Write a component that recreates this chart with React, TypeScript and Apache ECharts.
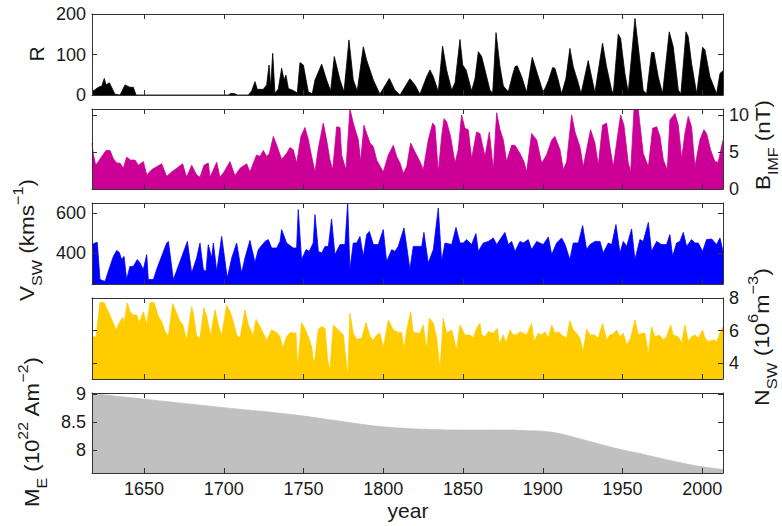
import React, { useEffect, useRef } from 'react';
import * as echarts from 'echarts';

const FONT = "'Liberation Sans', Arial, Helvetica, sans-serif";
const X_MIN = 1617.4;
const X_MAX = 2013;
const yearTicks = [1650, 1700, 1750, 1800, 1850, 1900, 1950, 2000];

const rTicks = [0, 100, 200];
const bTicks = [0, 5, 10];
const vTicks = [400, 600];
const nTicks = [4, 6, 8];
const mTicks = [8, 8.5, 9];

// Sunspot number R
const sunspotR: [number, number][] = [
  [1617.4, 10], [1618.9, 12], [1621.4, 19], [1623.5, 22], [1625.1, 41], [1626.2, 25], [1628.3, 30], [1629.7, 19],
  [1631.8, 2], [1635.0, 0], [1636.0, 8], [1638.1, 25], [1641.2, 19], [1643.3, 19], [1645.0, 0], [1702.9, 0],
  [1704.3, 4], [1707.0, 3], [1708.5, 0], [1715.4, 0], [1717.5, 10], [1719.6, 33], [1721.0, 14], [1724.8, 14],
  [1726.9, 25], [1728.4, 74], [1729.4, 20], [1730.7, 103], [1732.1, 4], [1734.2, 15], [1736.3, 66], [1737.8, 37],
  [1739.0, 49], [1740.5, 16], [1743.6, 11], [1746.1, 5], [1747.8, 80], [1749.9, 74], [1753.0, 8], [1755.5, 3],
  [1757.2, 37], [1761.4, 76], [1764.5, 37], [1767.0, 10], [1769.3, 95], [1772.9, 37], [1775.4, 8], [1778.5, 136],
  [1781.2, 37], [1783.7, 10], [1787.5, 119], [1789.6, 86], [1793.8, 37], [1797.9, 2], [1803.8, 41], [1807.3, 12],
  [1810.5, 0], [1816.7, 40], [1819.9, 25], [1823.0, 2], [1827.2, 45], [1829.3, 62], [1831.4, 45], [1834.5, 8],
  [1837.2, 121], [1839.7, 62], [1842.9, 12], [1845.0, 30], [1848.1, 137], [1849.8, 74], [1851.9, 62], [1855.4, 10],
  [1857.5, 40], [1859.6, 107], [1861.7, 95], [1864.4, 52], [1866.9, 12], [1868.6, 5], [1870.7, 154], [1873.2, 70],
  [1875.3, 22], [1878.4, 8], [1881.1, 50], [1882.6, 70], [1884.0, 72], [1886.8, 45], [1889.9, 6], [1893.4, 93],
  [1896.2, 58], [1900.3, 6], [1903.5, 35], [1906.2, 68], [1907.6, 66], [1909.7, 37], [1911.8, 3], [1914.5, 40],
  [1917.0, 115], [1919.1, 70], [1922.3, 29], [1924.0, 3], [1928.5, 85], [1930.6, 45], [1932.7, 6], [1937.5, 128],
  [1940.0, 70], [1943.2, 12], [1944.2, 3], [1947.3, 150], [1948.8, 140], [1951.5, 53], [1953.6, 6], [1957.8, 189],
  [1959.9, 119], [1963.0, 11], [1965.1, 3], [1968.2, 105], [1969.7, 105], [1972.4, 45], [1975.1, 3], [1979.3, 156],
  [1981.8, 119], [1985.0, 12], [1986.6, 3], [1989.8, 156], [1991.2, 144], [1993.3, 78], [1996.5, 3], [2000.2, 118],
  [2001.7, 111], [2004.8, 45], [2009.0, 3], [2011.1, 53], [2013.0, 60],
];

// IMF field strength B (nT)
const imfB: [number, number][] = [
  [1617.4, 6.2], [1618.2, 4.8], [1619.7, 3.2], [1621.4, 3.7], [1623.5, 4.4], [1626.2, 5.2], [1628.7, 5.2], [1630.8, 4.1],
  [1632.9, 3.5], [1635.0, 3.5], [1637.0, 2.8], [1639.1, 4.3], [1641.6, 3.9], [1644.4, 3.9], [1646.4, 3.2], [1649.6, 3.7],
  [1651.7, 1.9], [1654.8, 2.6], [1657.9, 3.0], [1661.1, 3.4], [1664.2, 1.7], [1667.3, 2.3], [1670.5, 2.8], [1674.2, 3.4],
  [1676.7, 1.6], [1679.9, 3.2], [1683.0, 1.9], [1685.1, 1.6], [1687.6, 3.2], [1690.3, 3.5], [1691.4, 1.6], [1695.6, 3.6],
  [1697.6, 1.6], [1700.2, 2.3], [1703.9, 3.7], [1707.0, 1.8], [1710.2, 2.8], [1714.4, 3.4], [1716.4, 2.3], [1720.6, 4.6],
  [1722.7, 4.4], [1724.8, 5.2], [1726.9, 4.4], [1728.6, 4.8], [1731.1, 7.1], [1733.2, 5.9], [1736.3, 4.0], [1739.4, 4.8],
  [1741.5, 5.6], [1743.6, 5.3], [1745.7, 3.5], [1748.4, 7.1], [1750.9, 8.3], [1753.0, 6.7], [1755.1, 4.4], [1757.2, 2.3],
  [1759.3, 5.5], [1762.4, 8.9], [1764.5, 6.6], [1766.6, 3.9], [1768.3, 2.6], [1770.8, 8.4], [1772.9, 8.3], [1773.9, 4.6],
  [1776.6, 2.6], [1779.1, 10.8], [1781.2, 8.9], [1784.4, 6.6], [1785.8, 3.7], [1787.9, 8.6], [1789.6, 7.5], [1791.7, 6.2],
  [1793.8, 5.7], [1795.9, 3.9], [1800.0, 2.3], [1803.2, 4.6], [1806.3, 5.9], [1808.4, 4.4], [1810.5, 3.5], [1812.6, 2.1],
  [1814.7, 3.0], [1817.2, 6.2], [1819.9, 5.0], [1823.0, 3.7], [1825.1, 2.6], [1828.2, 6.6], [1831.0, 8.9], [1832.4, 8.5],
  [1834.5, 2.3], [1836.6, 7.1], [1838.1, 9.5], [1839.7, 9.1], [1842.2, 7.1], [1845.0, 3.5], [1847.0, 5.3], [1849.1, 10.0],
  [1851.2, 8.2], [1853.3, 8.0], [1855.4, 4.1], [1858.5, 7.7], [1860.6, 7.5], [1863.8, 4.4], [1866.5, 7.7], [1869.0, 2.6],
  [1871.1, 10.3], [1873.2, 8.0], [1875.3, 6.6], [1877.3, 3.7], [1880.5, 5.9], [1882.6, 5.9], [1885.7, 4.8], [1888.2, 3.7],
  [1889.9, 2.3], [1893.0, 7.5], [1896.2, 6.6], [1899.3, 3.5], [1902.4, 4.6], [1905.6, 6.6], [1907.6, 7.1], [1910.8, 5.3],
  [1912.9, 2.6], [1915.0, 3.7], [1918.1, 10.0], [1920.2, 7.7], [1923.3, 5.7], [1925.4, 3.0], [1928.5, 6.4], [1930.0, 8.0],
  [1932.7, 6.2], [1934.8, 3.2], [1937.5, 8.6], [1940.0, 8.9], [1942.1, 5.7], [1944.2, 3.0], [1946.3, 6.2], [1948.8, 10.0],
  [1950.9, 8.6], [1953.6, 3.5], [1955.1, 2.3], [1957.2, 10.7], [1959.9, 10.7], [1963.0, 4.8], [1966.2, 3.0], [1968.9, 8.2],
  [1971.4, 8.4], [1973.5, 7.1], [1975.6, 3.9], [1978.1, 2.6], [1979.7, 9.3], [1982.9, 10.2], [1985.0, 8.6], [1987.1, 4.1],
  [1989.1, 7.5], [1991.2, 9.8], [1993.3, 8.4], [1995.4, 3.0], [1998.5, 6.6], [2001.0, 8.0], [2002.7, 7.5], [2005.2, 5.3],
  [2007.9, 3.7], [2010.0, 3.6], [2013.0, 6.6],
];

// Solar wind speed V (km/s)
const windV: [number, number][] = [
  [1617.4, 442], [1619.3, 450], [1620.7, 453], [1622.4, 267], [1625.6, 258], [1627.6, 308], [1630.8, 383], [1632.9, 412],
  [1634.5, 403], [1636.0, 367], [1637.5, 383], [1639.1, 267], [1641.2, 333], [1643.3, 333], [1645.8, 367], [1647.5, 350],
  [1649.6, 317], [1651.7, 392], [1652.7, 267], [1655.9, 267], [1657.9, 317], [1664.2, 450], [1665.3, 458], [1668.4, 267],
  [1672.6, 358], [1675.7, 425], [1677.2, 458], [1679.9, 300], [1683.0, 375], [1685.1, 450], [1687.2, 317], [1688.9, 308],
  [1690.3, 442], [1692.4, 375], [1693.5, 450], [1695.6, 308], [1698.7, 483], [1702.2, 275], [1705.0, 375], [1708.1, 450],
  [1711.2, 300], [1713.3, 375], [1716.4, 463], [1719.6, 353], [1721.7, 417], [1725.9, 458], [1727.9, 467], [1730.0, 425],
  [1733.2, 425], [1735.3, 458], [1736.3, 517], [1739.4, 450], [1743.6, 425], [1745.7, 425], [1746.7, 617], [1748.8, 367],
  [1751.6, 417], [1753.6, 408], [1756.1, 450], [1757.2, 592], [1759.3, 408], [1761.4, 400], [1763.5, 433], [1765.6, 433],
  [1767.6, 570], [1769.7, 392], [1772.9, 442], [1776.0, 442], [1777.7, 650], [1779.1, 317], [1781.2, 450], [1783.3, 450],
  [1785.4, 483], [1787.5, 383], [1789.6, 492], [1791.3, 508], [1793.8, 442], [1796.9, 442], [1800.0, 517], [1802.1, 358],
  [1805.3, 417], [1807.3, 408], [1809.4, 433], [1813.0, 525], [1814.7, 433], [1816.7, 317], [1818.8, 433], [1822.0, 433],
  [1824.1, 433], [1825.5, 503], [1828.2, 350], [1831.4, 417], [1834.5, 625], [1836.6, 358], [1838.7, 450], [1842.9, 442],
  [1845.6, 528], [1848.1, 450], [1850.2, 450], [1852.3, 467], [1855.4, 442], [1858.1, 497], [1859.6, 408], [1862.7, 450],
  [1865.9, 458], [1869.0, 475], [1871.1, 442], [1873.2, 467], [1876.3, 503], [1878.4, 442], [1880.5, 458], [1882.6, 408],
  [1885.7, 458], [1887.8, 450], [1890.9, 467], [1893.0, 417], [1896.2, 458], [1898.2, 450], [1900.3, 442], [1903.5, 480],
  [1905.6, 392], [1908.7, 450], [1911.8, 475], [1914.0, 442], [1917.0, 367], [1919.1, 450], [1922.3, 450], [1925.0, 537],
  [1927.5, 417], [1929.6, 442], [1932.7, 458], [1935.9, 458], [1937.9, 400], [1941.1, 450], [1943.2, 442], [1945.9, 542],
  [1948.4, 400], [1950.5, 458], [1952.6, 433], [1955.7, 520], [1957.8, 367], [1960.9, 467], [1963.0, 458], [1966.2, 553],
  [1968.2, 408], [1971.4, 458], [1974.5, 442], [1977.6, 442], [1979.7, 492], [1981.4, 383], [1983.9, 450], [1986.0, 458],
  [1988.1, 503], [1990.2, 433], [1993.3, 467], [1995.4, 450], [1997.5, 450], [2000.2, 408], [2002.7, 467], [2005.9, 470],
  [2009.0, 442], [2011.1, 475], [2013.0, 408],
];

// Solar wind number density N (1e6 m^-3)
const windN: [number, number][] = [
  [1617.4, 5.67], [1619.9, 5.59], [1621.4, 6.86], [1622.4, 7.71], [1624.9, 7.73], [1627.6, 7.16], [1630.8, 6.45], [1632.4, 6.04],
  [1635.0, 6.55], [1636.6, 6.82], [1637.5, 6.45], [1639.6, 7.71], [1641.2, 7.16], [1643.3, 6.96], [1645.4, 6.96], [1647.1, 6.49],
  [1649.6, 7.16], [1651.7, 6.35], [1653.8, 7.71], [1656.3, 7.73], [1659.0, 6.86], [1661.1, 6.55], [1663.2, 5.94], [1665.3, 5.67],
  [1668.0, 7.67], [1670.5, 7.06], [1672.6, 6.55], [1674.2, 6.41], [1676.7, 5.39], [1679.9, 7.47], [1680.9, 7.06], [1683.0, 5.67],
  [1685.1, 5.53], [1687.6, 7.41], [1689.3, 6.86], [1691.8, 5.67], [1694.5, 7.27], [1696.6, 6.35], [1698.7, 5.67], [1701.8, 7.57],
  [1703.9, 7.16], [1706.0, 6.55], [1708.1, 5.73], [1710.2, 5.53], [1713.3, 7.27], [1715.4, 6.35], [1718.5, 5.67], [1720.2, 6.69],
  [1722.7, 6.24], [1724.8, 5.84], [1726.9, 5.39], [1730.0, 6.04], [1733.2, 5.88], [1735.3, 5.63], [1736.9, 4.92], [1739.4, 5.63],
  [1741.5, 5.88], [1745.3, 5.84], [1746.3, 3.69], [1748.8, 6.49], [1750.9, 6.14], [1753.0, 5.63], [1755.1, 5.02], [1756.6, 3.8],
  [1759.3, 6.08], [1761.4, 6.24], [1763.5, 6.14], [1765.1, 4.2], [1766.6, 3.6], [1768.7, 6.35], [1771.8, 6.04], [1775.0, 5.73],
  [1777.7, 3.18], [1779.1, 7.06], [1781.2, 5.84], [1783.3, 5.47], [1786.5, 5.53], [1789.2, 6.49], [1791.7, 5.63], [1793.8, 5.43],
  [1795.9, 5.73], [1798.0, 5.84], [1800.0, 4.92], [1803.2, 6.65], [1806.3, 6.04], [1809.4, 5.88], [1811.5, 5.88], [1813.0, 4.82],
  [1814.7, 6.04], [1817.2, 7.16], [1818.8, 5.88], [1823.0, 5.84], [1825.1, 6.35], [1827.2, 4.82], [1828.9, 6.76], [1831.4, 6.45],
  [1833.5, 5.55], [1835.6, 3.59], [1837.6, 6.76], [1839.7, 5.84], [1842.9, 6.04], [1846.0, 4.82], [1848.1, 6.35], [1851.2, 5.73],
  [1854.4, 5.73], [1856.4, 5.53], [1858.5, 6.14], [1860.6, 6.45], [1861.7, 5.73], [1863.8, 5.63], [1865.9, 5.94], [1869.0, 5.84],
  [1871.5, 6.14], [1872.7, 5.22], [1875.3, 5.73], [1876.9, 5.22], [1879.4, 6.04], [1881.5, 5.73], [1883.6, 5.73], [1885.7, 5.94],
  [1887.8, 5.84], [1889.9, 5.73], [1893.0, 6.45], [1894.5, 5.33], [1897.2, 5.84], [1899.3, 5.73], [1901.4, 5.94], [1903.5, 5.53],
  [1905.6, 6.35], [1907.6, 5.84], [1909.7, 5.94], [1911.8, 5.73], [1915.0, 5.53], [1917.0, 6.61], [1919.1, 6.04], [1921.2, 5.84],
  [1923.3, 5.53], [1925.4, 4.71], [1927.5, 6.08], [1929.6, 5.73], [1932.7, 5.73], [1934.8, 5.53], [1937.5, 6.45], [1940.0, 5.43],
  [1942.1, 5.73], [1944.2, 5.8], [1946.3, 6.04], [1948.4, 5.63], [1950.5, 5.84], [1952.6, 5.12], [1955.1, 5.53], [1957.8, 6.65],
  [1959.9, 5.73], [1962.0, 5.84], [1964.1, 5.84], [1966.2, 4.51], [1968.2, 6.24], [1970.3, 5.63], [1973.0, 5.73], [1975.6, 5.43],
  [1977.6, 5.63], [1980.2, 6.35], [1981.8, 5.73], [1985.0, 5.63], [1987.1, 5.22], [1989.1, 6.35], [1991.2, 5.33], [1993.3, 5.63],
  [1995.4, 5.73], [1997.5, 5.53], [2000.2, 6.04], [2001.7, 5.53], [2003.8, 5.33], [2006.9, 5.43], [2009.0, 5.33], [2011.1, 5.84],
  [2013.0, 6.24],
];

// Geomagnetic dipole moment M_E (1e22 A m^2)
const dipoleM: [number, number][] = [
  [1617.4, 9.01], [1650, 8.91], [1700, 8.76], [1725, 8.69], [1750, 8.61], [1765, 8.55], [1780, 8.49], [1790, 8.45],
  [1800, 8.42], [1812, 8.395], [1825, 8.378], [1850, 8.362], [1875, 8.362], [1890, 8.352], [1900, 8.34], [1910, 8.3],
  [1920, 8.23], [1930, 8.155], [1940, 8.08], [1950, 8.01], [1960, 7.95], [1970, 7.885], [1980, 7.82], [1990, 7.76],
  [2000, 7.71], [2013, 7.66],
];

const panels = [
  { top: 14, height: 81, min: 0, max: 200, ticks: rTicks, labelSide: 'left', data: sunspotR, color: '#000000', smooth: false },
  { top: 109, height: 80, min: 0, max: 10.8, ticks: bTicks, labelSide: 'right', data: imfB, color: '#cc0096', smooth: false },
  { top: 203, height: 81, min: 245, max: 650, ticks: vTicks, labelSide: 'left', data: windV, color: '#0000ff', smooth: false },
  { top: 298, height: 81, min: 3.04, max: 8, ticks: nTicks, labelSide: 'right', data: windN, color: '#ffcc00', smooth: false },
  { top: 393, height: 80, min: 7.6, max: 9.02, ticks: mTicks, labelSide: 'left', data: dipoleM, color: '#c0c0c0', smooth: true },
];

const AXIS_COLOR = '#333333';
const TEXT_COLOR = '#1a1a1a';
const MAIN_SIZE = 21;
const SUB_SIZE = 15;

type Tok = [string, 'm' | 's' | 'p'];

function measure(tokens: Tok[]): number {
  const c = document.createElement('canvas').getContext('2d');
  if (!c) return 0;
  let w = 0;
  tokens.forEach(([t, k]) => {
    c.font = `${k === 'm' ? MAIN_SIZE : SUB_SIZE}px ${FONT}`;
    w += c.measureText(t).width;
  });
  return w;
}

function buildOption() {
  const grid: any[] = [];
  const xAxis: any[] = [];
  const yAxis: any[] = [];
  const series: any[] = [];
  panels.forEach((p, i) => {
    grid.push({ left: 92, width: 631, top: p.top, height: p.height, containLabel: false });
    ['bottom', 'top'].forEach((pos) => {
      xAxis.push({
        gridIndex: i,
        type: 'value',
        position: pos,
        min: X_MIN,
        max: X_MAX,
        z: 5,
        axisLine: { show: true, onZero: false, lineStyle: { color: AXIS_COLOR, width: 1 } },
        axisTick: { show: true, inside: true, length: 5, customValues: yearTicks, lineStyle: { color: AXIS_COLOR } },
        axisLabel: {
          show: pos === 'bottom' && i === panels.length - 1,
          customValues: yearTicks,
          fontSize: 18,
          fontFamily: FONT,
          color: TEXT_COLOR,
          margin: 7,
          formatter: (v: number) => String(v),
        },
        splitLine: { show: false },
      });
    });
    ['left', 'right'].forEach((pos) => {
      yAxis.push({
        gridIndex: i,
        type: 'value',
        position: pos,
        min: p.min,
        max: p.max,
        z: 5,
        axisLine: { show: true, onZero: false, lineStyle: { color: AXIS_COLOR, width: 1 } },
        axisTick: { show: true, inside: true, length: 5, customValues: p.ticks, lineStyle: { color: AXIS_COLOR } },
        axisLabel: {
          show: pos === p.labelSide,
          customValues: p.ticks,
          fontSize: 18,
          fontFamily: FONT,
          color: TEXT_COLOR,
          margin: 6,
          formatter: (v: number) => String(v),
        },
        splitLine: { show: false },
      });
    });
    series.push({
      type: 'line',
      xAxisIndex: i * 2,
      yAxisIndex: i * 2,
      data: p.data,
      showSymbol: false,
      symbol: 'none',
      smooth: p.smooth ? 0.5 : false,
      clip: true,
      lineStyle: { color: p.color, width: 0.8 },
      areaStyle: { color: p.color, opacity: 1, origin: 'start' },
      z: 2,
    });
  });

  const richBase = {
    m: { fontSize: MAIN_SIZE, fontFamily: FONT, lineHeight: 34, verticalAlign: 'middle', fill: TEXT_COLOR },
    s: { fontSize: SUB_SIZE, fontFamily: FONT, verticalAlign: 'bottom', fill: TEXT_COLOR },
    p: { fontSize: SUB_SIZE, fontFamily: FONT, verticalAlign: 'top', fill: TEXT_COLOR },
  };
  const rotated = (x: number, yCenter: number, tokens: Tok[], target: number) => {
    const w = measure(tokens);
    const sc = w > 0 && target > 0 ? target / w : 1;
    return {
      type: 'text',
      x,
      y: yCenter,
      rotation: Math.PI / 2,
      scaleX: sc,
      style: {
        text: tokens.map(([t, k]) => `{${k}|${t}}`).join(''),
        rich: richBase,
        align: 'center',
        verticalAlign: 'middle',
        fill: TEXT_COLOR,
        font: `${MAIN_SIZE}px ${FONT}`,
      },
    };
  };

  const graphic = [
    rotated(36, 54, [['R', 'm']], 0),
    rotated(763, 145, [['B', 'm'], ['IMF', 's'], [' (nT)', 'm']], 90),
    rotated(27, 240, [['V', 'm'], ['SW', 's'], [' (kms', 'm'], ['−1', 'p'], [')', 'm']], 122),
    rotated(762, 337, [['N', 'm'], ['SW', 's'], [' (10', 'm'], ['6', 'p'], ['m', 'm'], ['−3', 'p'], [')', 'm']], 138),
    rotated(32, 432, [['M', 'm'], ['E', 's'], [' (10', 'm'], ['22', 'p'], [' Am', 'm'], ['−2', 'p'], [')', 'm']], 150),
    {
      type: 'text',
      x: 408,
      y: 510,
      style: { text: 'year', font: `21px ${FONT}`, fill: TEXT_COLOR, align: 'center', verticalAlign: 'middle' },
    },
  ];

  return {
    animation: false,
    backgroundColor: '#ffffff',
    textStyle: { fontFamily: FONT },
    grid,
    xAxis,
    yAxis,
    series,
    graphic,
  };
}

export default function App() {
  const ref = useRef<HTMLDivElement>(null);
  useEffect(() => {
    if (!ref.current) return;
    const chart = echarts.init(ref.current, null, { renderer: 'svg' });
    chart.setOption(buildOption() as any);
    return () => chart.dispose();
  }, []);
  return <div ref={ref} style={{ position: 'absolute', left: 0, top: 0, width: 782, height: 526 }} />;
}
